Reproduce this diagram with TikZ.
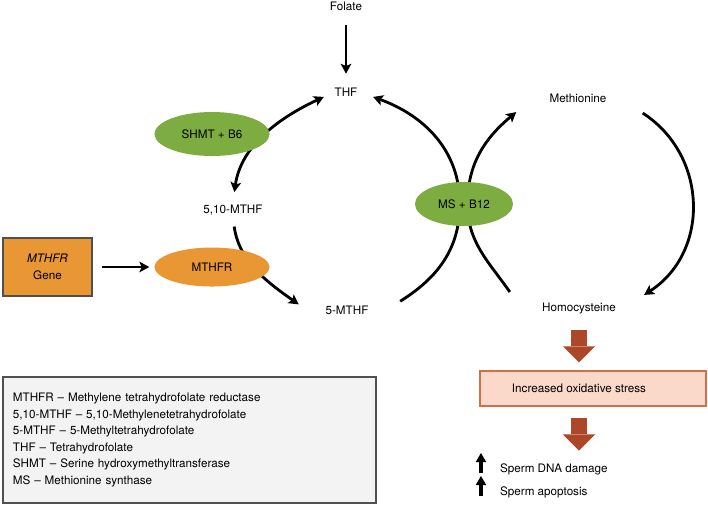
\documentclass[tikz,border=0pt]{standalone}
\usepackage{fontspec}
\setmainfont{TeX Gyre Heros}
\usetikzlibrary{arrows.meta,shapes.geometric,backgrounds}

\definecolor{enzgreen}{RGB}{125,172,64}
\definecolor{folorange}{RGB}{233,150,52}
\definecolor{rustbrown}{RGB}{172,72,40}
\definecolor{stressfill}{RGB}{250,216,202}
\definecolor{stressline}{RGB}{208,112,72}
\definecolor{keyfill}{RGB}{243,243,243}
\definecolor{keyline}{RGB}{80,80,80}

\begin{document}
\begin{tikzpicture}[x=0.025cm, y=0.025cm,
  every node/.style={font=\fontsize{8.3}{10}\selectfont, inner sep=2pt},
  >={Stealth[length=7pt, width=7.5pt, inset=1.5pt]},
  flow/.style={line width=2pt, ->},
  enzyme/.style={ellipse, fill=enzgreen, minimum width=2.875cm, minimum height=1.1cm},
  bigflow/.style={rustbrown, line width=12pt, -{Triangle[length=11.5pt, width=23pt, line width=0pt]}},
  upmark/.style={line width=2.6pt, -{Triangle[length=6.5pt, width=7.5pt, line width=0pt]}}]
\useasboundingbox (0,0) rectangle (708,-509);

% metabolites
\node (folate) at (346,-6) {Folate};
\node (thf) at (346,-92) {THF};
\node (mthften) at (233,-210) {5,10-MTHF};
\node (mthf) at (347,-310) {5-MTHF};
\node (met) at (578,-98) {Methionine};
\node (hcy) at (579,-309) {Homocysteine};

% enzymes
\node[enzyme] (shmt) at (212,-134) {SHMT + B6};
\node[enzyme, fill=folorange, minimum height=0.975cm] (mthfr) at (212,-267) {MTHFR};
\node[enzyme, minimum width=2.45cm] (ms) at (464,-204) {MS + B12};

% boxes
\node[draw=keyline, fill=folorange, line width=0.8pt, minimum width=2.225cm, minimum height=1.45cm,
  align=center, font=\fontsize{8.3}{12}\selectfont] (gene) at (47.5,-267) {\textit{MTHFR}\\Gene};
\node[draw=stressline, fill=stressfill, line width=0.8pt, minimum width=5.65cm, minimum height=0.875cm]
  (ox) at (593,-388.5) {\hspace*{-0.7cm}Increased oxidative stress};
\node[draw=keyline, fill=keyfill, line width=0.8pt, minimum width=9.325cm, minimum height=3.15cm,
  inner xsep=0.25cm, text width=8.825cm, align=left, font=\fontsize{8.3}{11.8}\selectfont] (key) at (189.5,-440)
  {MTHFR -- Methylene tetrahydrofolate reductase\\
   5,10-MTHF -- 5,10-Methylenetetrahydrofolate\\
   5-MTHF -- 5-Methyltetrahydrofolate\\
   THF -- Tetrahydrofolate\\
   SHMT -- Serine hydroxymethyltransferase\\
   MS -- Methionine synthase};

% effects
\node[anchor=west] (dna) at (497,-469) {Sperm DNA damage};
\node[anchor=west] (apo) at (497,-492) {Sperm apoptosis};

\begin{scope}[on background layer]
\draw[flow, shorten <=8.5pt, shorten >=7.8pt] (folate) -- (thf);
\draw[flow, <->, shorten <=7pt] (mthften.north) to[out=82, in=205] ([shift={(-5.5pt,-3.5pt)}]thf.west);
\draw[flow, shorten <=6pt] (mthften.south) to[out=-82, in=145] ([shift={(-16.9pt,4pt)}]mthf.west);
\draw[flow] ([shift={(20.4pt,6.2pt)}]mthf.east) to[out=32, in=-90] ([xshift=-3pt]ms.center)
  to[out=90, in=-20] ([shift={(9pt,-3.5pt)}]thf.east);
\draw[flow] ([shift={(-20.8pt,12.1pt)}]hcy.west) to[out=125, in=-90] ([xshift=2.5pt]ms.center)
  to[out=90, in=220] ([shift={(-21.5pt,-10pt)}]met.west);
\draw[flow, looseness=1.1] ([shift={(23.6pt,-10.7pt)}]met.east) to[out=-33, in=33] ([shift={(17.9pt,10pt)}]hcy.east);
\draw[flow, shorten <=7pt, shorten >=3.5pt] (gene) -- (mthfr);
\end{scope}

\draw[bigflow, shorten <=8.5pt, shorten >=5.7pt] (hcy) -- (hcy |- ox.north);
\draw[bigflow] (ox.south -| hcy) ++(0,-11) -- ++(0,-33);
\foreach \s in {dna,apo}
  \draw[upmark] ([shift={(-11.4pt,-2.8pt)}]\s.west) -- ++(0,20);
\end{tikzpicture}
\end{document}
